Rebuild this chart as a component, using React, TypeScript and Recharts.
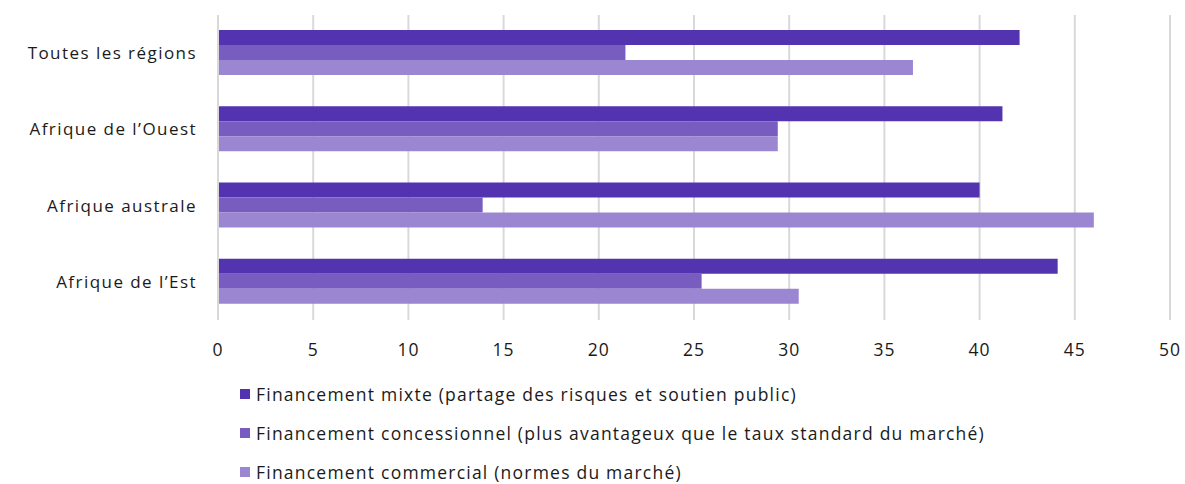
import React from "react";
import { BarChart, Bar, XAxis, YAxis, CartesianGrid, Legend } from "recharts";

const categories = ["Toutes les régions", "Afrique de l’Ouest", "Afrique australe", "Afrique de l’Est"];
const mixte = [42.1, 41.2, 40.0, 44.1];
const concessionnel = [21.4, 29.4, 13.9, 25.4];
const commercial = [36.5, 29.4, 46.0, 30.5];
const xTicks = [0, 5, 10, 15, 20, 25, 30, 35, 40, 45, 50];

const seriesNames = [
  "Financement mixte (partage des risques et soutien public)",
  "Financement concessionnel (plus avantageux que le taux standard du marché)",
  "Financement commercial (normes du marché)",
];
const colors = ["#5333b0", "#785cc0", "#9b86d1"];

const data = categories.map((c, i) => ({
  name: c,
  mixte: mixte[i],
  concessionnel: concessionnel[i],
  commercial: commercial[i],
}));

const FONT = "'Open Sans', sans-serif";

const LegendContent = () => (
  <div style={{ fontFamily: FONT, fontSize: 17.5, color: "#1a1a1a", letterSpacing: 1.22 }}>
    {seriesNames.map((n, i) => (
      <div key={n} style={{ display: "flex", alignItems: "center", height: 39, whiteSpace: "nowrap" }}>
        <span style={{ display: "inline-block", width: 10, height: 10, background: colors[i], marginRight: 6 }} />
        <span>{n}</span>
      </div>
    ))}
  </div>
);

export default function App() {
  return (
    <div style={{ position: "absolute", left: 0, top: 0, width: 1185, height: 484, background: "#fff", overflow: "hidden" }}>
      <BarChart
        width={1185}
        height={484}
        data={data}
        layout="vertical"
        margin={{ top: 15, right: 15, bottom: 119, left: 0 }}
        barCategoryGap={15}
        barGap={0}
      >
        <CartesianGrid horizontal={false} stroke="#d9d9d9" strokeWidth={2} />
        <XAxis
          type="number"
          domain={[0, 50]}
          ticks={xTicks}
          axisLine={false}
          tickLine={false}
          tickMargin={18}
          height={45}
          tick={{ fill: "#1a1a1a", fontSize: 17.5, fontFamily: FONT, letterSpacing: 1 }}
        />
        <YAxis
          type="category"
          dataKey="name"
          width={218}
          axisLine={{ stroke: "#d9d9d9", strokeWidth: 2 }}
          tickLine={false}
          tickMargin={15}
          tick={{ fill: "#1a1a1a", fontSize: 17, fontFamily: FONT, letterSpacing: 1.45 }}
        />
        <Legend
          layout="vertical"
          align="center"
          verticalAlign="middle"
          content={<LegendContent />}
          wrapperStyle={{ left: 240, top: 374, width: 940 }}
        />
        <Bar dataKey="mixte" fill={colors[0]} isAnimationActive={false} />
        <Bar dataKey="concessionnel" fill={colors[1]} isAnimationActive={false} />
        <Bar dataKey="commercial" fill={colors[2]} isAnimationActive={false} />
      </BarChart>
    </div>
  );
}
